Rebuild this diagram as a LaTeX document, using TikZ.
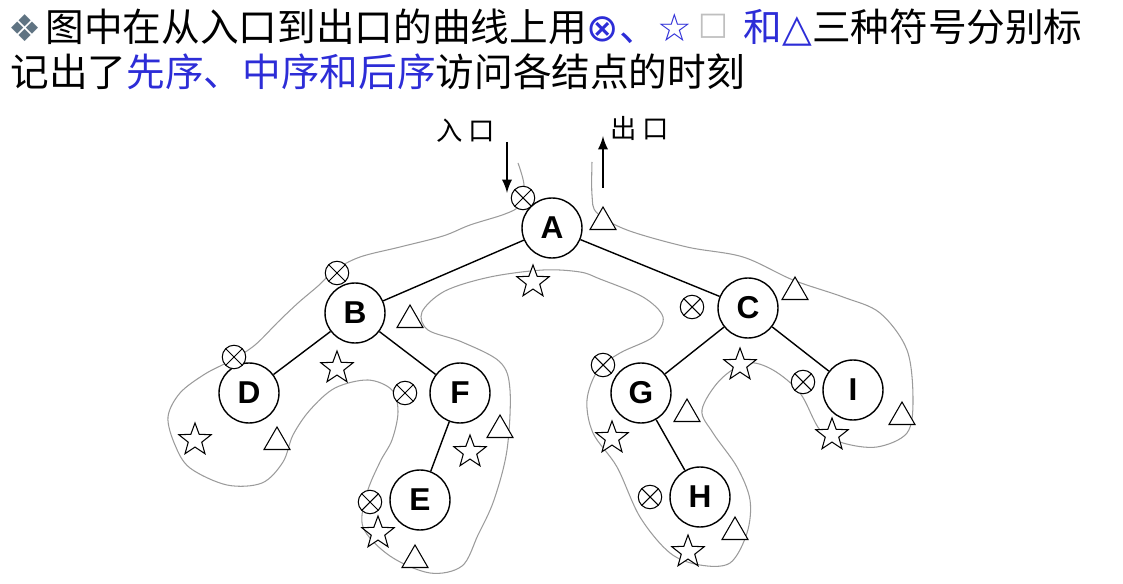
\documentclass[tikz,border=0pt]{standalone}
\usepackage{fontspec}
\setmainfont{Liberation Sans}
\newfontfamily\cjk{Noto Sans CJK SC}
\newfontfamily\sym{DejaVu Sans}
\usetikzlibrary{shapes.geometric}
\definecolor{titleblue}{RGB}{45,45,215}
\definecolor{curvegray}{RGB}{155,155,155}
\definecolor{bulletgray}{RGB}{95,115,130}

\begin{document}
\begin{tikzpicture}[x=0.02cm,y=-0.02cm,line width=0.6pt,
  treenode/.style={circle,draw,line width=0.8pt,minimum size=1.2cm,inner sep=0pt,fill=white,font=\bfseries\fontsize{18}{18}\selectfont},
  preMark/.style={circle,draw,minimum size=0.47cm,inner sep=0pt,fill=white,path picture={\draw (path picture bounding box.north west) -- (path picture bounding box.south east) (path picture bounding box.north east) -- (path picture bounding box.south west);}},
  inMark/.style={star,star points=5,star point ratio=2.4,draw,minimum size=0.68cm,inner sep=0pt,fill=white},
  postMark/.style={regular polygon,regular polygon sides=3,draw,minimum size=0.6cm,inner sep=0pt,fill=white},
  titletext/.style={anchor=west,inner sep=0pt,font=\cjk\fontsize{22}{26}\selectfont}]

\useasboundingbox (0,0) rectangle (1123,584);

\node [text=bulletgray,font=\sym\fontsize{21}{21}\selectfont] (bullet) at (25,28) {❖};
\node [titletext] (title1) at (45,28) {图中在从入口到出口的曲线上用\textcolor{titleblue}{{\sym ⊗}、{\sym\fontsize{22}{22}\selectfont ☆}\,\textcolor{gray!50}{\raisebox{4pt}{\sym\fontsize{18}{18}\selectfont □}}\hspace{0.3cm}和{\sym △}}三种符号分别标};
\node [titletext] (title2) at (10,72) {记出了\textcolor{titleblue}{先序、中序和后序}访问各结点的时刻};

\draw [curvegray] plot [smooth,tension=0.55] coordinates {(518,163) (524,185) (520,205) (505,214) (470,225) (443,236) (400,247) (360,257) (335,270) (318,286) (298,303) (278,322) (255,345) (232,360) (205,374) (180,393) (168,417) (175,445) (190,468) (227,485) (262,483) (283,462) (293,435) (310,410) (335,388) (368,380) (392,390) (398,412) (392,440) (380,462) (367,493) (363,527) (390,556) (430,573) (462,566) (478,535) (494,500) (507,450) (510,390) (500,362) (462,342) (428,330) (422,312) (445,291) (490,277) (543,270) (580,272) (600,279) (643,297) (663,317) (653,337) (620,353) (598,370) (587,400) (593,433) (617,467) (640,517) (670,553) (700,565) (730,563) (747,533) (750,500) (737,467) (713,433) (702,410) (720,380) (747,363) (773,370) (800,393) (820,430) (843,443) (877,447) (907,433) (913,400) (907,350) (880,313) (843,297) (793,280) (743,257) (687,247) (627,230) (597,213) (592,195) (592,162)};

\node [treenode] (nodeA) at (552,228) {A};
\node [treenode] (nodeB) at (355,313) {B};
\node [treenode] (nodeC) at (748,308) {C};
\node [treenode] (nodeD) at (249,393) {D};
\node [treenode] (nodeF) at (460,393) {F};
\node [treenode] (nodeE) at (420,500) {E};
\node [treenode] (nodeG) at (641,393) {G};
\node [treenode] (nodeI) at (853,390) {I};
\node [treenode] (nodeH) at (700,497) {H};

\draw [line width=0.8pt] (nodeA) -- (nodeB);
\draw [line width=0.8pt] (nodeA) -- (nodeC);
\draw [line width=0.8pt] (nodeB) -- (nodeD);
\draw [line width=0.8pt] (nodeB) -- (nodeF);
\draw [line width=0.8pt] (nodeF) -- (nodeE);
\draw [line width=0.8pt] (nodeC) -- (nodeG);
\draw [line width=0.8pt] (nodeC) -- (nodeI);
\draw [line width=0.8pt] (nodeG) -- (nodeH);

\node [preMark] (preA) at (523,198) {};
\node [preMark] (preB) at (337,273) {};
\node [preMark] (preD) at (234,357) {};
\node [preMark] (preF) at (405,393) {};
\node [preMark] (preE) at (370,502) {};
\node [preMark] (preC) at (692,307) {};
\node [preMark] (preG) at (603,365) {};
\node [preMark] (preH) at (650,497) {};
\node [preMark] (preI) at (803,382) {};

\node [inMark] (inA) at (533,282) {};
\node [inMark] (inB) at (337,368) {};
\node [inMark] (inD) at (195,440) {};
\node [inMark] (inF) at (470,452) {};
\node [inMark] (inE) at (378,533) {};
\node [inMark] (inC) at (740,365) {};
\node [inMark] (inG) at (612,438) {};
\node [inMark] (inH) at (688,552) {};
\node [inMark] (inI) at (832,435) {};

\node [postMark] (postA) at (603,222) {};
\node [postMark] (postB) at (410,320) {};
\node [postMark] (postD) at (277,442) {};
\node [postMark] (postF) at (500,430) {};
\node [postMark] (postE) at (415,560) {};
\node [postMark] (postC) at (795,292) {};
\node [postMark] (postG) at (687,414) {};
\node [postMark] (postH) at (735,532) {};
\node [postMark] (postI) at (902,417) {};

\node [font=\cjk\fontsize{15}{15}\selectfont] (inLabel) at (466,131) {入\kern0.12cm 口};
\node [font=\cjk\fontsize{15}{15}\selectfont] (outLabel) at (640,128) {出\kern0.12cm 口};
\coordinate (inStart) at (507,142);
\coordinate (inEnd) at (507,193);
\coordinate (outStart) at (603,188);
\coordinate (outEnd) at (603,136);
\draw [-latex,line width=1.6pt] (inStart) -- (inEnd);
\draw [-latex,line width=1.6pt] (outStart) -- (outEnd);

\end{tikzpicture}
\end{document}
